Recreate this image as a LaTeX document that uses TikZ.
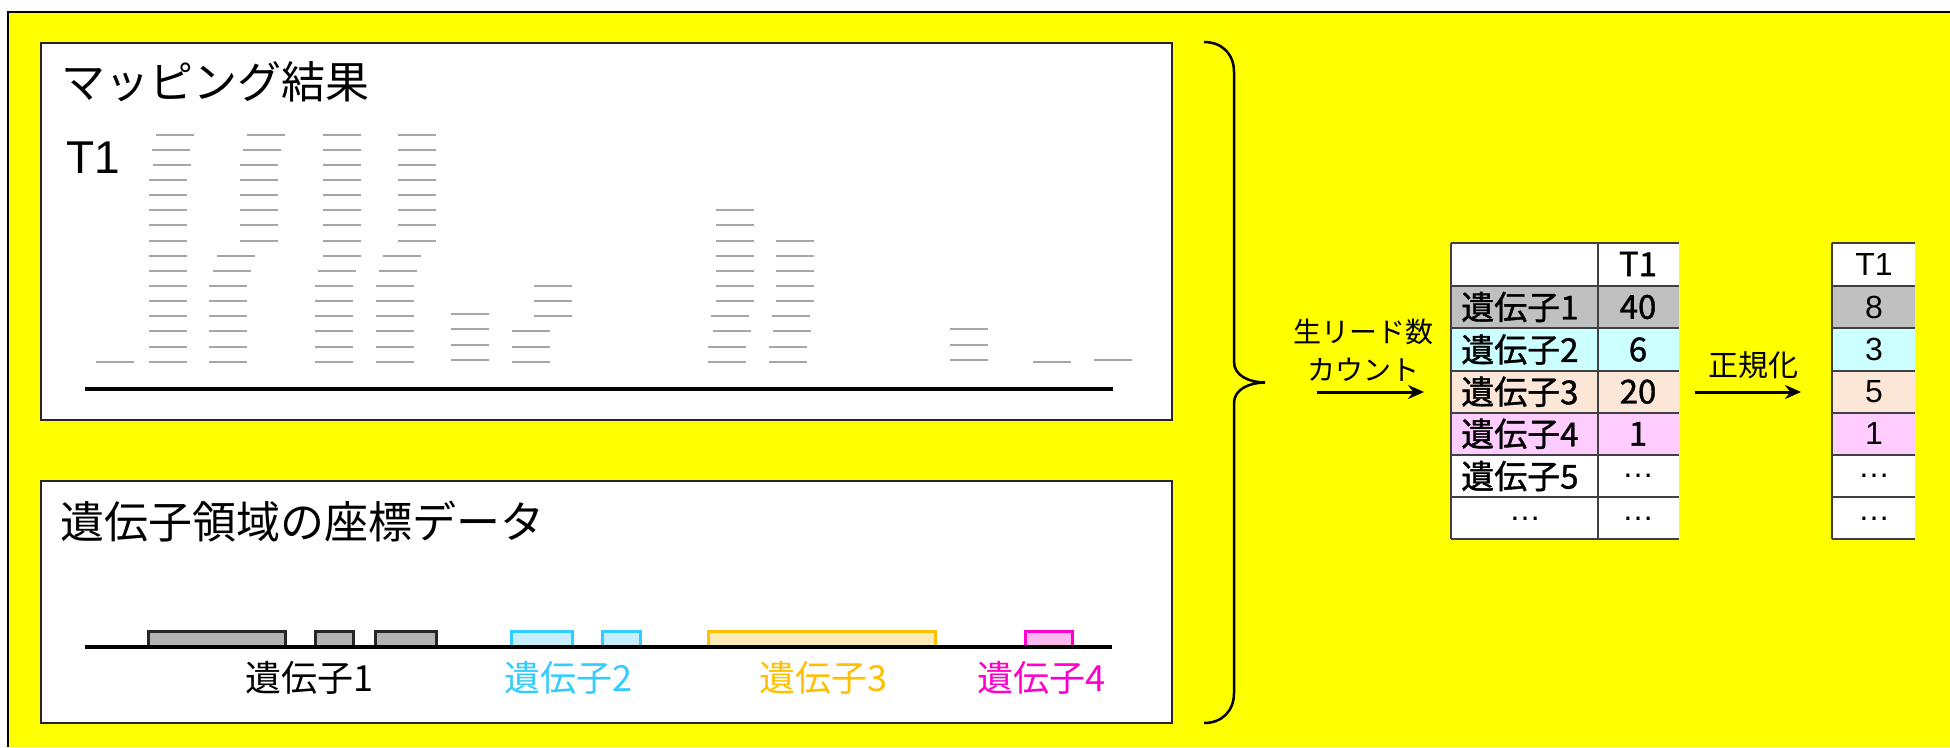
\documentclass[tikz,border=0pt]{standalone}
\usepackage{fontspec}
\setmainfont{Liberation Sans}
\newfontfamily\jp{Noto Sans CJK JP}
\newfontfamily\jpheavy[FakeBold=1.2]{Noto Sans CJK JP}
\usetikzlibrary{arrows.meta}
\definecolor{bgyellow}{HTML}{FFFF00}
\definecolor{readgray}{HTML}{A6A6A6}
\definecolor{tabline}{HTML}{404040}
\definecolor{rowgray}{HTML}{C0C0C0}
\definecolor{rowcyan}{HTML}{CCFFFF}
\definecolor{rowpeach}{HTML}{FCE6D8}
\definecolor{rowpink}{HTML}{FFCCFF}
\definecolor{gonefill}{HTML}{B3B3B3}
\definecolor{gtwofill}{HTML}{C6EEFF}
\definecolor{gtwoline}{HTML}{33CCFF}
\definecolor{gthreefill}{HTML}{FFEBB8}
\definecolor{gthreeline}{HTML}{FFC000}
\definecolor{gfourfill}{HTML}{FFB8EE}
\definecolor{gfourline}{HTML}{FF00CC}
\newcommand\myfs[1]{\fontsize{#1}{#1}\selectfont}
\newcommand\myread[2]{\draw[readline] (#1,{ry(#2)}) -- ++(38,0);}
\newcommand\myreads[3]{\foreach \k in {#2,...,#3} {\myread{#1}{\k}}}
\begin{document}
\begin{tikzpicture}[x=1pt,y=-1pt,
  declare function={ry(\k)=134.7+15.13*(\k-1);},
  readline/.style={draw=readgray,line width=2},
  panel/.style={draw=black!85,line width=2,fill=white},
  baseln/.style={line width=4,draw=black},
  geneone/.style={fill=gonefill,draw=black!85,line width=3},
  genetwo/.style={fill=gtwofill,draw=gtwoline,line width=3},
  genethree/.style={fill=gthreefill,draw=gthreeline,line width=3},
  genefour/.style={fill=gfourfill,draw=gfourline,line width=3},
  title/.style={anchor=west,inner sep=0,font=\jp\myfs{44}},
  glabel/.style={inner sep=0,font=\jp\myfs{36}},
  arrlabel/.style={inner sep=0,font=\jp\myfs{28}},
  arr/.style={line width=3,-{Stealth[length=16,width=14]}},
  tline/.style={draw=tabline,line width=2},
  cellA/.style={inner sep=0,font=\jpheavy\myfs{33}},
  cellB/.style={inner sep=0,font=\myfs{32}}
]
\useasboundingbox (0,0) rectangle (1950,747);
% background
\fill[bgyellow] (8,12) rectangle (1950,747);
\draw[line width=2.5] (8,747) -- (8,12) -- (1950,12);

% upper panel
\draw[panel] (41,43) rectangle (1172,420);
\node[title] (maptitle) at (61,82) {マッピング結果};
\node[inner sep=0,font=\myfs{46}] (tone) at (93,158) {T1};
\draw[baseln] (85,389) -- (1113,389);
% reads
\myread{96}{16}
\myread{156}{1}\myread{152}{2}\myread{153}{3}\myreads{149}{4}{16}
\myread{247}{1}\myread{243}{2}\myreads{240}{3}{8}\myread{217}{9}\myread{213}{10}\myreads{209}{11}{16}
\myreads{323}{1}{9}\myread{318}{10}\myreads{315}{11}{16}
\myreads{398}{1}{8}\myread{383}{9}\myread{379}{10}\myreads{376}{11}{16}
\foreach \k in {12.87,13.87,14.87,15.87} {\myread{451}{\k}}
\myreads{534}{11}{13}\myreads{512}{14}{16}
\myreads{716}{6}{12}\myread{711}{13}\myread{713}{14}\myreads{708}{15}{16}
\myreads{776}{8}{12}\myread{772}{13}\myread{773}{14}\myreads{769}{15}{16}
\foreach \k in {13.87,14.87,15.87} {\myread{950}{\k}}
\myread{1033}{16}
\myread{1094}{15.87}

% lower panel
\draw[panel] (41,481) rectangle (1172,723);
\node[title] (gentitle) at (60,522) {遺伝子領域の座標データ};
\draw[geneone] (148,631) rectangle (285,646);
\draw[geneone] (315,631) rectangle (353,646);
\draw[geneone] (375,631) rectangle (436,646);
\draw[genetwo] (511,631) rectangle (572,646);
\draw[genetwo] (602,631) rectangle (640,646);
\draw[genethree] (708,631) rectangle (935,646);
\draw[genefour] (1025,631) rectangle (1072,646);
\draw[baseln] (85,647) -- (1112,647);
\node[glabel] (gl1) at (309,678) {遺伝子1};
\node[glabel,text=gtwoline] (gl2) at (568,678) {遺伝子2};
\node[glabel,text=gthreeline] (gl3) at (823,678) {遺伝子3};
\node[glabel,text=gfourline] (gl4) at (1041,678) {遺伝子4};

% brace
\draw[line width=2.5] (1204,42) .. controls (1222,42) and (1234,54) .. (1234,72)
  -- (1234,362) .. controls (1234,376) and (1250,382.5) .. (1265,382.5)
  .. controls (1250,382.5) and (1234,389) .. (1234,403)
  -- (1234,693) .. controls (1234,711) and (1222,723) .. (1204,723);

% arrow 1
\node[arrlabel] (lab1a) at (1363,332) {生リード数};
\node[arrlabel] (lab1b) at (1363,370) {カウント};
\coordinate (a1s) at (1317,392);
\coordinate (a1e) at (1424,392);
\draw[arr] (a1s) -- (a1e);

% table 1
\def\ra{242.5}\def\rb{285.7}\def\rc{328.3}\def\rd{370.7}\def\re{412.7}\def\rf{455}\def\rg{497.3}\def\rh{539.3}
\fill[white] (1451,\ra) rectangle (1679,\rb);
\fill[rowgray] (1451,\rb) rectangle (1679,\rc);
\fill[rowcyan] (1451,\rc) rectangle (1679,\rd);
\fill[rowpeach] (1451,\rd) rectangle (1679,\re);
\fill[rowpink] (1451,\re) rectangle (1679,\rf);
\fill[white] (1451,\rf) rectangle (1679,\rh);
\foreach \yy in {\ra,\rb,\rc,\rd,\re,\rf,\rg,\rh} {\draw[tline] (1451,\yy) -- (1679,\yy);}
\draw[tline] (1451,\ra) -- (1451,\rh);
\draw[tline] (1598,\ra) -- (1598,\rh);
\node[cellA] (h1) at (1638,264) {T1};
\node[cellA,anchor=west] (g1) at (1461,307) {遺伝子1};
\node[cellA,anchor=west] (g2) at (1461,349.5) {遺伝子2};
\node[cellA,anchor=west] (g3) at (1461,391.7) {遺伝子3};
\node[cellA,anchor=west] (g4) at (1461,433.8) {遺伝子4};
\node[cellA,anchor=west] (g5) at (1461,476.1) {遺伝子5};
\node[cellB] (g6) at (1525,518.3) {…};
\node[cellA] (v1) at (1638,307) {40};
\node[cellA] (v2) at (1638,349.5) {6};
\node[cellA] (v3) at (1638,391.7) {20};
\node[cellA] (v4) at (1638,433.8) {1};
\node[cellB] (v5) at (1638,476.1) {…};
\node[cellB] (v6) at (1638,518.3) {…};

% arrow 2
\node[inner sep=0,font=\jp\myfs{30}] (lab2) at (1753,365) {正規化};
\coordinate (a2s) at (1695,392);
\coordinate (a2e) at (1801,392);
\draw[arr] (a2s) -- (a2e);

% table 2
\fill[white] (1831.5,\ra) rectangle (1915,\rb);
\fill[rowgray] (1831.5,\rb) rectangle (1915,\rc);
\fill[rowcyan] (1831.5,\rc) rectangle (1915,\rd);
\fill[rowpeach] (1831.5,\rd) rectangle (1915,\re);
\fill[rowpink] (1831.5,\re) rectangle (1915,\rf);
\fill[white] (1831.5,\rf) rectangle (1915,\rh);
\foreach \yy in {\ra,\rb,\rc,\rd,\re,\rf,\rg,\rh} {\draw[tline] (1831.5,\yy) -- (1915,\yy);}
\draw[tline] (1831.5,\ra) -- (1831.5,\rh);
\node[cellB] (n0) at (1874,264) {T1};
\node[cellB] (n1) at (1874,307) {8};
\node[cellB] (n2) at (1874,349.5) {3};
\node[cellB] (n3) at (1874,391.7) {5};
\node[cellB] (n4) at (1874,433.8) {1};
\node[cellB] (n5) at (1874,476.1) {…};
\node[cellB] (n6) at (1874,518.3) {…};
\end{tikzpicture}
\end{document}
